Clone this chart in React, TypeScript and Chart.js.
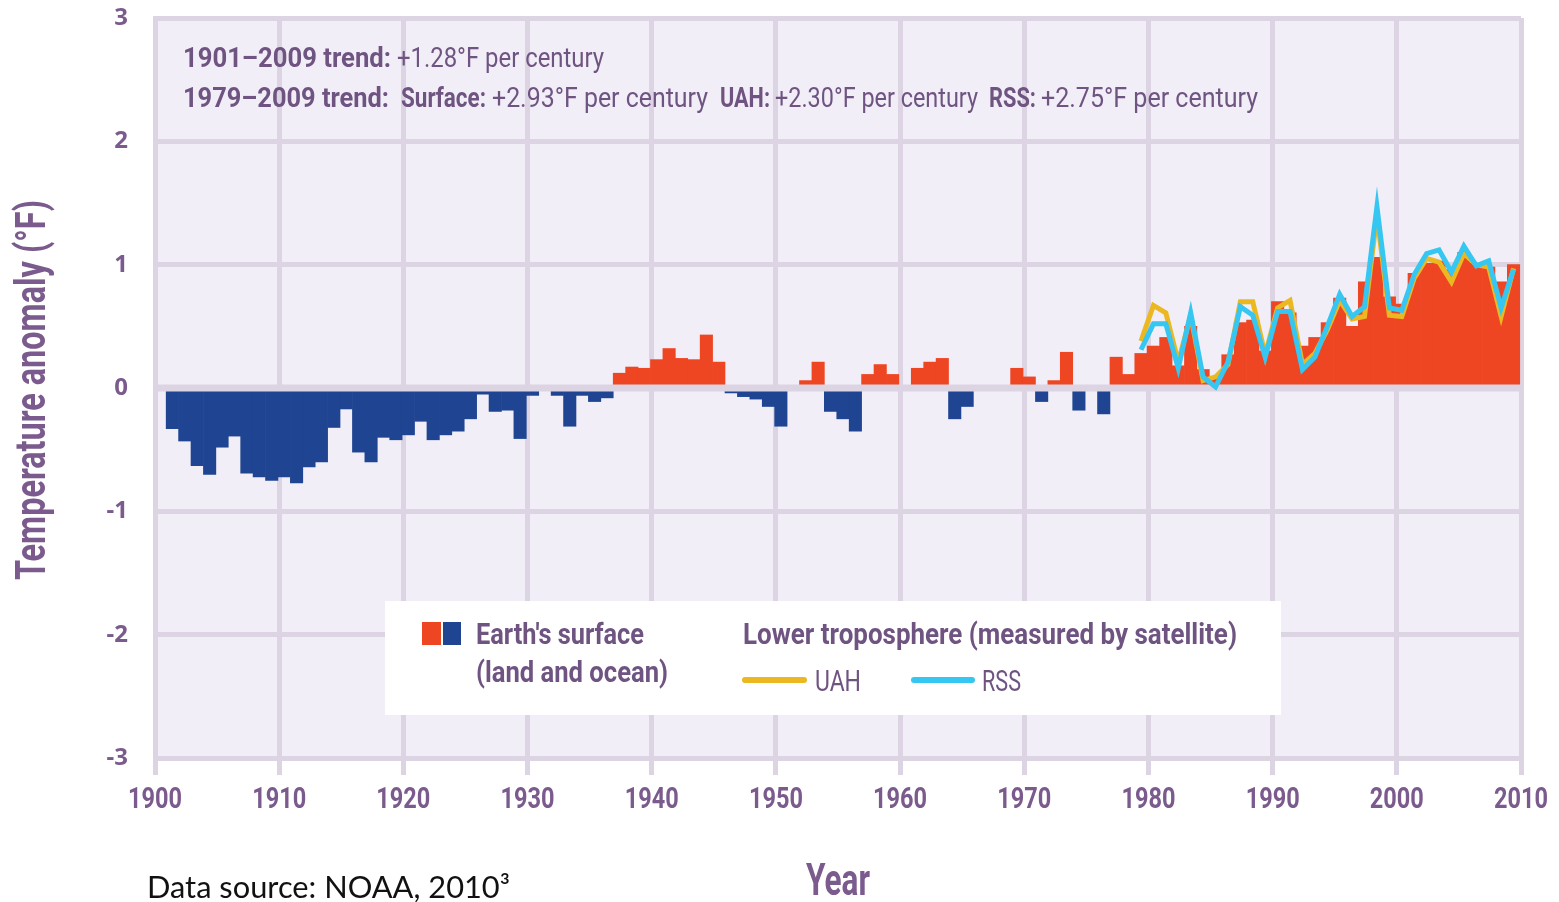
import React, { useEffect, useRef } from 'react';
import { Chart, registerables } from 'chart.js';

Chart.register(...registerables);

// ---------- data ----------
const surfaceYears = [
  1901, 1902, 1903, 1904, 1905, 1906, 1907, 1908, 1909, 1910,
  1911, 1912, 1913, 1914, 1915, 1916, 1917, 1918, 1919, 1920,
  1921, 1922, 1923, 1924, 1925, 1926, 1927, 1928, 1929, 1930,
  1931, 1932, 1933, 1934, 1935, 1936, 1937, 1938, 1939, 1940,
  1941, 1942, 1943, 1944, 1945, 1946, 1947, 1948, 1949, 1950,
  1951, 1952, 1953, 1954, 1955, 1956, 1957, 1958, 1959, 1960,
  1961, 1962, 1963, 1964, 1965, 1966, 1967, 1968, 1969, 1970,
  1971, 1972, 1973, 1974, 1975, 1976, 1977, 1978, 1979, 1980,
  1981, 1982, 1983, 1984, 1985, 1986, 1987, 1988, 1989, 1990,
  1991, 1992, 1993, 1994, 1995, 1996, 1997, 1998, 1999, 2000,
  2001, 2002, 2003, 2004, 2005, 2006, 2007, 2008, 2009,
];
const surfaceAnomaly = [
  -0.33, -0.43, -0.63, -0.70, -0.48, -0.39, -0.69, -0.72, -0.75, -0.72,
  -0.77, -0.64, -0.60, -0.32, -0.17, -0.52, -0.60, -0.40, -0.42, -0.38,
  -0.27, -0.42, -0.38, -0.35, -0.25, -0.05, -0.19, -0.18, -0.41, -0.06,
  -0.01, -0.06, -0.31, -0.06, -0.11, -0.08, 0.12, 0.17, 0.16, 0.23,
  0.32, 0.24, 0.23, 0.43, 0.21, -0.04, -0.07, -0.09, -0.15, -0.31,
  0.01, 0.06, 0.21, -0.19, -0.25, -0.35, 0.11, 0.19, 0.11, 0.02,
  0.16, 0.21, 0.24, -0.25, -0.15, -0.02, 0.01, -0.02, 0.16, 0.09,
  -0.11, 0.06, 0.29, -0.18, -0.02, -0.21, 0.25, 0.11, 0.28, 0.34,
  0.41, 0.18, 0.50, 0.15, 0.08, 0.27, 0.53, 0.55, 0.30, 0.70,
  0.61, 0.34, 0.41, 0.53, 0.73, 0.50, 0.86, 1.06, 0.74, 0.68,
  0.93, 1.01, 1.03, 0.96, 1.10, 1.01, 0.98, 0.86, 1.00,
];
const satelliteYears = [
  1979, 1980, 1981, 1982, 1983, 1984, 1985, 1986, 1987, 1988,
  1989, 1990, 1991, 1992, 1993, 1994, 1995, 1996, 1997, 1998,
  1999, 2000, 2001, 2002, 2003, 2004, 2005, 2006, 2007, 2008, 2009,
];
const uahAnomaly = [
  0.38, 0.67, 0.61, 0.21, 0.59, 0.06, 0.09, 0.19, 0.70, 0.70,
  0.27, 0.65, 0.71, 0.19, 0.28, 0.47, 0.71, 0.56, 0.58, 1.40,
  0.59, 0.58, 0.89, 1.05, 1.02, 0.86, 1.09, 1.00, 0.98, 0.58, 0.97,
];
const rssAnomaly = [
  0.31, 0.52, 0.52, 0.16, 0.61, 0.09, 0.01, 0.21, 0.66, 0.59,
  0.25, 0.62, 0.62, 0.15, 0.25, 0.50, 0.76, 0.58, 0.66, 1.47,
  0.65, 0.63, 0.92, 1.09, 1.12, 0.94, 1.15, 0.99, 1.03, 0.65, 0.96,
];
const xTickYears = [1900, 1910, 1920, 1930, 1940, 1950, 1960, 1970, 1980, 1990, 2000, 2010];
const yTickValues = [-3, -2, -1, 0, 1, 2, 3];

// ---------- style ----------
const W = 1559;
const H = 902;
const BASE = "Roboto, 'Noto Sans', sans-serif";
const LABEL_PURPLE = '#7b5a8d';
const TEXT_PURPLE = '#6f5482';
const GRID = '#dcd4e2';
const PLOT_BG = '#f1eef7';
const RED = '#ee4523';
const BLUE = '#1f4592';
const UAH_COLOR = '#ebb821';
const RSS_COLOR = '#35c6f1';
const YEAR_SHIFT = 0.4; // marks sit inside their year span

// draws text condensed horizontally so it spans targetW
function fitText(
  ctx: CanvasRenderingContext2D,
  text: string,
  x: number,
  y: number,
  size: number,
  weight: string,
  targetW: number,
  align: 'left' | 'center' = 'left',
  family: string = BASE,
) {
  ctx.font = `${weight} ${size}px ${family}`;
  const w = ctx.measureText(text).width || 1;
  const sx = targetW / w;
  ctx.save();
  ctx.translate(align === 'center' ? x - targetW / 2 : x, y);
  ctx.scale(sx, 1);
  ctx.textAlign = 'left';
  ctx.fillText(text, 0, 0);
  ctx.restore();
}

const decorPlugin = {
  id: 'decor',
  beforeDraw(chart: any) {
    const { ctx, chartArea: a } = chart;
    ctx.save();
    ctx.fillStyle = '#ffffff';
    ctx.fillRect(0, 0, chart.width, chart.height);
    ctx.fillStyle = PLOT_BG;
    ctx.fillRect(a.left, a.top, a.right - a.left, a.bottom - a.top);
    ctx.restore();
  },
  afterDatasetDraw(chart: any, args: any) {
    if (args.meta.type !== 'bar') return;
    const { ctx, chartArea: a } = chart;
    const y0 = chart.scales.y.getPixelForValue(0);
    ctx.save();
    ctx.strokeStyle = GRID;
    ctx.lineWidth = 7;
    ctx.beginPath();
    ctx.moveTo(a.left, y0);
    ctx.lineTo(a.right, y0);
    ctx.stroke();
    ctx.restore();
  },
  afterDraw(chart: any) {
    const { ctx } = chart;
    const xs = chart.scales.x;
    ctx.save();
    ctx.textBaseline = 'alphabetic';

    // x tick labels
    ctx.fillStyle = LABEL_PURPLE;
    for (const v of xTickYears) {
      fitText(ctx, String(v), xs.getPixelForValue(v), 808, 30, 'bold', 54, 'center');
    }
    // axis titles
    fitText(ctx, 'Year', (chart.chartArea.left + chart.chartArea.right) / 2, 895, 44, 'bold', 64, 'center');
    ctx.save();
    ctx.translate(45, 390);
    ctx.rotate(-Math.PI / 2);
    fitText(ctx, 'Temperature anomaly (°F)', 0, 0, 42, 'bold', 380, 'center');
    ctx.restore();

    // trend notes
    ctx.fillStyle = TEXT_PURPLE;
    const TS = 28;
    fitText(ctx, '1901–2009 trend:', 183, 67, TS, 'bold', 208);
    fitText(ctx, '+1.28°F per century', 397, 67, TS, 'normal', 207);
    fitText(ctx, '1979–2009 trend:', 183, 107, TS, 'bold', 206);
    fitText(ctx, 'Surface:', 401, 107, TS, 'bold', 85);
    fitText(ctx, '+2.93°F per century', 492, 107, TS, 'normal', 216);
    fitText(ctx, 'UAH:', 720, 107, TS, 'bold', 50);
    fitText(ctx, '+2.30°F per century', 775, 107, TS, 'normal', 203);
    fitText(ctx, 'RSS:', 989, 107, TS, 'bold', 47);
    fitText(ctx, '+2.75°F per century', 1041, 107, TS, 'normal', 217);

    // legend box
    ctx.fillStyle = '#ffffff';
    ctx.fillRect(385, 601, 896, 114);
    ctx.fillStyle = RED;
    ctx.fillRect(422, 622, 19, 23);
    ctx.fillStyle = BLUE;
    ctx.fillRect(443, 622, 18, 23);
    ctx.fillStyle = TEXT_PURPLE;
    const LS = 30;
    fitText(ctx, "Earth's surface", 476, 644, LS, 'bold', 168);
    fitText(ctx, '(land and ocean)', 476, 682, LS, 'bold', 192);
    fitText(ctx, 'Lower troposphere (measured by satellite)', 743, 644, LS, 'bold', 494);
    fitText(ctx, 'UAH', 815, 691, LS, 'normal', 46);
    fitText(ctx, 'RSS', 982, 691, LS, 'normal', 39);
    ctx.lineWidth = 6;
    ctx.lineCap = 'round';
    ctx.strokeStyle = UAH_COLOR;
    ctx.beginPath();
    ctx.moveTo(745, 680);
    ctx.lineTo(804, 680);
    ctx.stroke();
    ctx.strokeStyle = RSS_COLOR;
    ctx.beginPath();
    ctx.moveTo(914, 680);
    ctx.lineTo(972, 680);
    ctx.stroke();

    // source note
    ctx.fillStyle = '#111111';
    fitText(ctx, 'Data source: NOAA, 2010³', 147, 898, 30, 'normal', 363, 'left', "Lato, 'Open Sans', sans-serif");
    ctx.restore();
  },
};

export default function App() {
  const ref = useRef<HTMLCanvasElement | null>(null);

  useEffect(() => {
    document.body.style.margin = '0';
    const canvas = ref.current;
    if (!canvas) return;
    const chart = new Chart(canvas, {
      type: 'bar',
      data: {
        datasets: [
          {
            type: 'line',
            label: 'RSS',
            data: satelliteYears.map((yr, i) => ({ x: yr + YEAR_SHIFT, y: rssAnomaly[i] })),
            borderColor: RSS_COLOR,
            borderWidth: 5,
            pointRadius: 0,
            tension: 0,
            order: 0,
          },
          {
            type: 'line',
            label: 'UAH',
            data: satelliteYears.map((yr, i) => ({ x: yr + YEAR_SHIFT, y: uahAnomaly[i] })),
            borderColor: UAH_COLOR,
            borderWidth: 5,
            pointRadius: 0,
            tension: 0,
            order: 1,
          },
          {
            type: 'bar',
            label: "Earth's surface (land and ocean)",
            data: surfaceYears.map((yr, i) => ({ x: yr + YEAR_SHIFT, y: surfaceAnomaly[i] })),
            backgroundColor: surfaceAnomaly.map((v) => (v >= 0 ? RED : BLUE)),
            borderWidth: 0,
            barPercentage: 1,
            categoryPercentage: 1,
            order: 2,
          },
        ] as any,
      },
      options: {
        responsive: false,
        animation: false,
        layout: { padding: { top: 18, right: 38, left: 0, bottom: 0 } },
        plugins: { legend: { display: false }, tooltip: { enabled: false } },
        scales: {
          x: {
            type: 'linear',
            min: 1900,
            max: 2010,
            offset: false,
            afterBuildTicks: (s: any) => {
              s.ticks = xTickYears.map((v) => ({ value: v }));
            },
            afterFit: (s: any) => {
              s.height = 144;
              s.paddingLeft = 0;
              s.paddingRight = 0;
            },
            ticks: { display: false },
            grid: { color: GRID, lineWidth: 5, tickLength: 17, drawTicks: true, offset: false },
            border: { color: GRID, width: 5 },
          },
          y: {
            min: -3,
            max: 3,
            afterBuildTicks: (s: any) => {
              s.ticks = yTickValues.map((v) => ({ value: v }));
            },
            afterFit: (s: any) => {
              s.width = 155;
              s.paddingTop = 0;
              s.paddingBottom = 0;
            },
            ticks: {
              padding: 27,
              color: LABEL_PURPLE,
              font: { family: "'Noto Sans', 'Open Sans', sans-serif", size: 24, weight: 'bold' },
              callback: (v: any) => String(v),
            },
            grid: { color: GRID, lineWidth: 5, drawTicks: false },
            border: { color: GRID, width: 5 },
          },
        },
      } as any,
      plugins: [decorPlugin],
    });
    return () => chart.destroy();
  }, []);

  return <canvas ref={ref} width={W} height={H} style={{ display: 'block', width: W, height: H }} />;
}
